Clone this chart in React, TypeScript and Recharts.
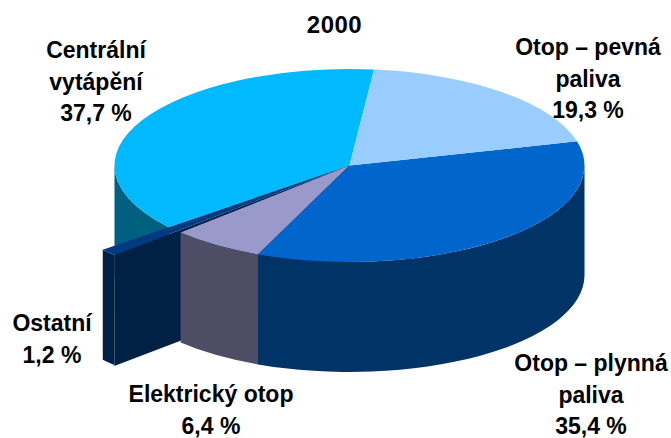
import { PieChart, Pie } from "recharts";

// slices run counter-clockwise from the top boundary, so the paint order keeps the front walls right
const categories = ["Centrální", "Ostatní", "Elektrický otop", "Otop – plynná paliva", "Otop – pevná paliva"];
const values = [37.7, 1.2, 6.4, 35.4, 19.3];
const labelLines = [
  ["Centrální", "vytápění", "37,7 %"],
  ["Ostatní", "1,2 %"],
  ["Elektrický otop", "6,4 %"],
  ["Otop – plynná", "paliva", "35,4 %"],
  ["Otop – pevná", "paliva", "19,3 %"],
];
const title = "2000";

const topColors = ["#00B9FF", "#003A80", "#9999CC", "#0066CC", "#99CCFF"];
const wallColors = ["#00607F", "#002144", "#4D4D66", "#003366", "#4D6680"];
const labelAnchors = [
  { x: 96, y: 58 },
  { x: 52, y: 331 },
  { x: 211, y: 402 },
  { x: 591, y: 371 },
  { x: 588, y: 55 },
];

const W = 671;
const H = 438;
const CX = 349.5;
const CY = 165.5;
const R = 235;
const TILT = 96.5 / 235;
const DEPTH = 110;
const OSTATNI = 1;
const OSTATNI_STRETCH = 1.365;
const OSTATNI_TRIM = 1.2;

const rad = (a: number) => (a * Math.PI) / 180;
const pt = (cx: number, cy: number, r: number, a: number, dy = 0) => ({
  x: cx + r * Math.cos(rad(a)),
  y: cy - r * TILT * Math.sin(rad(a)) + dy,
});

function Slice3D(props: any) {
  const { cx, cy, outerRadius, startAngle, index } = props;
  const isOstatni = index === OSTATNI;
  const endAngle = isOstatni ? props.endAngle - OSTATNI_TRIM : props.endAngle;
  const r = isOstatni ? outerRadius * OSTATNI_STRETCH : outerRadius;
  const ry = r * TILT;
  const s = pt(cx, cy, r, startAngle);
  const e = pt(cx, cy, r, endAngle);
  const large = endAngle - startAngle > 180 ? 1 : 0;
  const top = `M${cx},${cy} L${s.x},${s.y} A${r},${ry} 0 ${large} 0 ${e.x},${e.y} Z`;

  // outer wall only where the rim faces the viewer
  const a0 = Math.max(startAngle, 180);
  const a1 = Math.min(endAngle, 360);
  let wall = null;
  if (a1 > a0) {
    const p0 = pt(cx, cy, r, a0);
    const p1 = pt(cx, cy, r, a1);
    const d = `M${p0.x},${p0.y} A${r},${ry} 0 0 0 ${p1.x},${p1.y} L${p1.x},${p1.y + DEPTH} A${r},${ry} 0 0 1 ${p0.x},${p0.y + DEPTH} Z`;
    wall = <path d={d} fill={wallColors[index]} />;
  }

  return (
    <g>
      {isOstatni && (
        <path
          d={`M${cx},${cy} L${e.x},${e.y} L${e.x},${e.y + DEPTH + 1} L${cx},${cy + DEPTH + 1} Z`}
          fill={wallColors[index]}
        />
      )}
      {wall}
      <path d={top} fill={topColors[index]} />
    </g>
  );
}

function SliceLabel(props: any) {
  const { index } = props;
  const a = labelAnchors[index];
  return (
    <text
      x={a.x}
      y={a.y}
      textAnchor="middle"
      fontFamily="Liberation Sans"
      fontWeight="bold"
      fontSize={23}
      fill="#000"
    >
      {labelLines[index].map((line, i) => (
        <tspan key={i} x={a.x} y={a.y + i * 31.5}>
          {line}
        </tspan>
      ))}
    </text>
  );
}

export default function App() {
  const data = categories.map((name, i) => ({ name, value: values[i] }));

  return (
    <div style={{ position: "absolute", left: 0, top: 0, width: W, height: H, background: "#fff" }}>
      <PieChart width={W} height={H} margin={{ top: 0, right: 0, bottom: 0, left: 0 }}>
        <Pie
          data={data}
          dataKey="value"
          nameKey="name"
          cx={CX}
          cy={CY}
          innerRadius={0}
          outerRadius={R}
          startAngle={84}
          endAngle={444}
          stroke="none"
          shape={Slice3D}
          label={SliceLabel}
          labelLine={false}
          isAnimationActive={false}
        />
        <text x={334.5} y={33} textAnchor="middle" fontFamily="Liberation Sans" fontWeight="bold" fontSize={24} letterSpacing={0.5} fill="#000">
          {title}
        </text>
      </PieChart>
    </div>
  );
}
